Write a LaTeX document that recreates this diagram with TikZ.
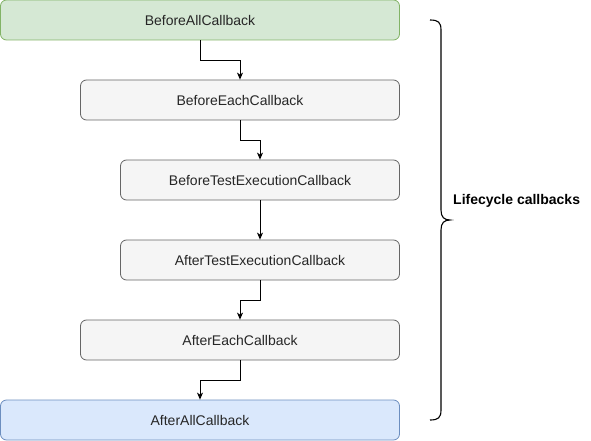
\documentclass[tikz,border=0pt]{standalone}
\usepackage{fontspec}
\setmainfont{Liberation Sans}
\usetikzlibrary{arrows.meta}
\definecolor{greenfill}{HTML}{D5E8D4}
\definecolor{greenline}{HTML}{82B366}
\definecolor{grayfill}{HTML}{F5F5F5}
\definecolor{grayline}{HTML}{666666}
\definecolor{bluefill}{HTML}{DAE8FC}
\definecolor{blueline}{HTML}{6C8EBF}
\tikzset{
  box/.style={draw, rounded corners=6pt, line width=0.8pt, minimum height=40pt, inner sep=0pt, font=\fontsize{14pt}{16pt}\selectfont, text=black!85},
  greenbox/.style={box, fill=greenfill, draw=greenline},
  graybox/.style={box, fill=grayfill, draw=grayline},
  bluebox/.style={box, fill=bluefill, draw=blueline},
  conn/.style={draw=black, line width=0.9pt, -{Stealth[length=7pt,width=6pt,inset=2pt]}},
}
\begin{document}
\begin{tikzpicture}[x=1pt,y=-1pt]
\useasboundingbox (0,0) rectangle (591,441);
\node[greenbox, minimum width=399pt] (ba) at (200,20) {BeforeAllCallback};
\node[graybox, minimum width=319pt] (be) at (240,100) {BeforeEachCallback};
\node[graybox, minimum width=279pt] (bt) at (260,180) {BeforeTestExecutionCallback};
\node[graybox, minimum width=279pt] (at) at (260,260) {AfterTestExecutionCallback};
\node[graybox, minimum width=319pt] (ae) at (240,340) {AfterEachCallback};
\node[bluebox, minimum width=399pt] (aa) at (200,420) {AfterAllCallback};
\draw[conn] (ba.south) -- ++(0,20) -| (be.north);
\draw[conn] (be.south) -- ++(0,20) -| (bt.north);
\draw[conn] (bt.south) -- (at.north);
\draw[conn] (at.south) -- ++(0,20) -| (ae.north);
\draw[conn] (ae.south) -- ++(0,20) -| (aa.north);
\coordinate (btop) at (430,20);
\coordinate (bbot) at (430,420);
\coordinate (btip) at (450,220);
\draw[line width=1.1pt, black] (btop) .. controls (438,20) and (441,22) .. (441,30)
  -- (441,210) .. controls (441,217) and (444,220) .. (btip)
  .. controls (444,220) and (441,223) .. (441,230)
  -- (441,410) .. controls (441,418) and (438,420) .. (bbot);
\node[anchor=west, font=\bfseries\fontsize{14pt}{16pt}\selectfont, inner sep=0pt] (lbl) at (453,201) {Lifecycle callbacks};
\end{tikzpicture}
\end{document}
